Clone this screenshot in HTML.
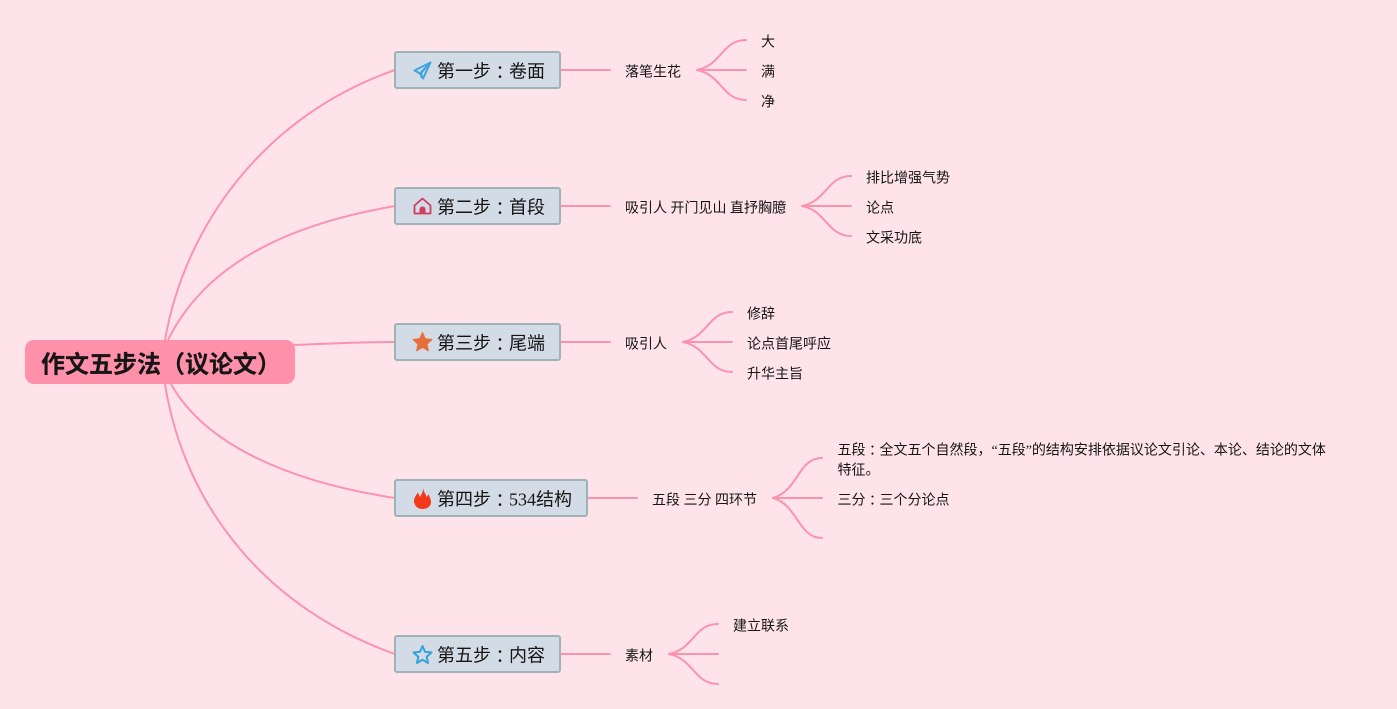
<!DOCTYPE html>
<html><head><meta charset="utf-8"><style>
html,body{margin:0;padding:0;width:1397px;height:709px;overflow:hidden;background:#fee3eb}
svg{display:block}
text{font-family:"Liberation Serif","WenQuanYi Zen Hei","Noto Sans CJK SC",sans-serif;fill:#151515}
tspan.c{font-family:"Noto Sans CJK TC",sans-serif;dominant-baseline:auto}
.m{font-size:18px}.s{font-size:14px}
.l{fill:none;stroke:#fb93b0;stroke-width:2;stroke-linecap:round}
.b{fill:#d3dbe6;stroke:#9db3b5;stroke-width:2}
</style></head><body>
<svg width="1397" height="709" viewBox="0 0 1397 709" xmlns="http://www.w3.org/2000/svg">
<rect width="1397" height="709" fill="#fee3eb"/>
<g class="l">
<path d="M165 340C185 225 265 115 395 70"/>
<path d="M168 340C205 265 285 225 395 206"/>
<path d="M295 345C330 343.500 360 342 395 342"/>
<path d="M171 384C205 445 290 482 395 498"/>
<path d="M165 384C185 510 270 610 395 654"/>
<path d="M561 70H610"/><path d="M561 206H610"/><path d="M561 342H610"/><path d="M588 498H637"/><path d="M561 654H610"/>
<path d="M697 70C722 65 722 40 746 40M697 70H746M697 70C722 75 722 100 746 100"/>
<path d="M802 206C827 201 827 176 851 176M802 206H851M802 206C827 211 827 236 851 236"/>
<path d="M683 342C708 337 708 312 732 312M683 342H732M683 342C708 347 708 372 732 372"/>
<path d="M773 498C798 491 798 458 822 458M773 498H822M773 498C798 505 798 538 822 538"/>
<path d="M669 654C694 649 694 624 718 624M669 654H718M669 654C694 659 694 684 718 684"/>
</g>
<rect x="25" y="340" width="270" height="44" rx="9" fill="#fe90a9"/>
<text x="41" y="372.500" font-size="24" font-weight="bold" stroke="#151515" stroke-width=".2">作文五步法（议论文）</text>
<rect class="b" x="395" y="52" width="165" height="36" rx="2"/>
<rect class="b" x="395" y="188" width="165" height="36" rx="2"/>
<rect class="b" x="395" y="324" width="165" height="36" rx="2"/>
<rect class="b" x="395" y="480" width="192" height="36" rx="2"/>
<rect class="b" x="395" y="636" width="165" height="36" rx="2"/>
<path d="M430.500 62.500L414.500 70.500L420 73.500L423 78.500L430.500 62.500ZM420 73.500L430.500 62.500L421.500 72.500V78" fill="none" stroke="#3fa4dc" stroke-width="2" stroke-linejoin="round"/>
<path d="M414.500 205.500L422.500 198.500L430.500 205.500V213.500H414.500Z" fill="none" stroke="#cf3d63" stroke-width="1.800" stroke-linejoin="round"/>
<path d="M419.500 214V209.500Q419.500 206.500 422.500 206.500Q425.500 206.500 425.500 209.500V214Z" fill="#cf3d63"/>
<path d="M422.500 332.500L425.300 338.800L432 339.500L427 344.100L428.400 350.800L422.500 347.400L416.600 350.800L418 344.100L413 339.500L419.700 338.800Z" fill="#e96f3a" stroke="#e96f3a" stroke-linejoin="round"/>
<path d="M423 488C423.500 492 426 494 426.500 497C427.500 496.500 428 495.500 428 494C430 497 431 499.500 431 502C431 506 427.500 509 422.500 509C417.500 509 414 505.500 414 501C414 497 416.500 495.500 417.500 492.500C419 494 419.500 495.500 419.500 497C421.500 495 423 492 423 488Z" fill="#f5391a"/>
<path d="M422.500 646L425 651.800L431.500 652.500L426.700 656.800L428 663L422.500 659.800L417 663L418.300 656.800L413.500 652.500L420 651.800Z" fill="none" stroke="#35a2dc" stroke-width="2" stroke-linejoin="round"/>
<g class="m">
<text x="437" y="77.500">第一步<tspan class="c" dy="1.500">：</tspan><tspan dy="-1.500">卷面</tspan></text>
<text x="437" y="213.500">第二步<tspan class="c" dy="1.500">：</tspan><tspan dy="-1.500">首段</tspan></text>
<text x="437" y="349.500">第三步<tspan class="c" dy="1.500">：</tspan><tspan dy="-1.500">尾端</tspan></text>
<text x="437" y="505.500">第四步<tspan class="c" dy="1.500">：</tspan><tspan dy="-1.500">534结构</tspan></text>
<text x="437" y="661.500">第五步<tspan class="c" dy="1.500">：</tspan><tspan dy="-1.500">内容</tspan></text>
</g>
<g class="s">
<text x="625" y="76.500">落笔生花</text>
<text x="761" y="46.500">大</text><text x="761" y="76.500">满</text><text x="761" y="106.500">净</text>
<text x="625" y="212.500">吸引人 开门见山 直抒胸臆</text>
<text x="866" y="182.500">排比增强气势</text><text x="866" y="212.500">论点</text><text x="866" y="242.500">文采功底</text>
<text x="625" y="348.500">吸引人</text>
<text x="747" y="318.500">修辞</text><text x="747" y="348.500">论点首尾呼应</text><text x="747" y="378.500">升华主旨</text>
<text x="652" y="504.500">五段 三分 四环节</text>
<text x="837.500" y="454.500">五段<tspan class="c" dy="1">：</tspan><tspan dy="-1">全文五个自然段，“五段”的结构安排依据议论文引论、本论、结论的文体</tspan></text>
<text x="837.500" y="474.500">特征。</text>
<text x="837.500" y="504.500">三分<tspan class="c" dy="1">：</tspan><tspan dy="-1">三个分论点</tspan></text>
<text x="625" y="660.500">素材</text>
<text x="733" y="630.500">建立联系</text>
</g>
</svg>
</body></html>
